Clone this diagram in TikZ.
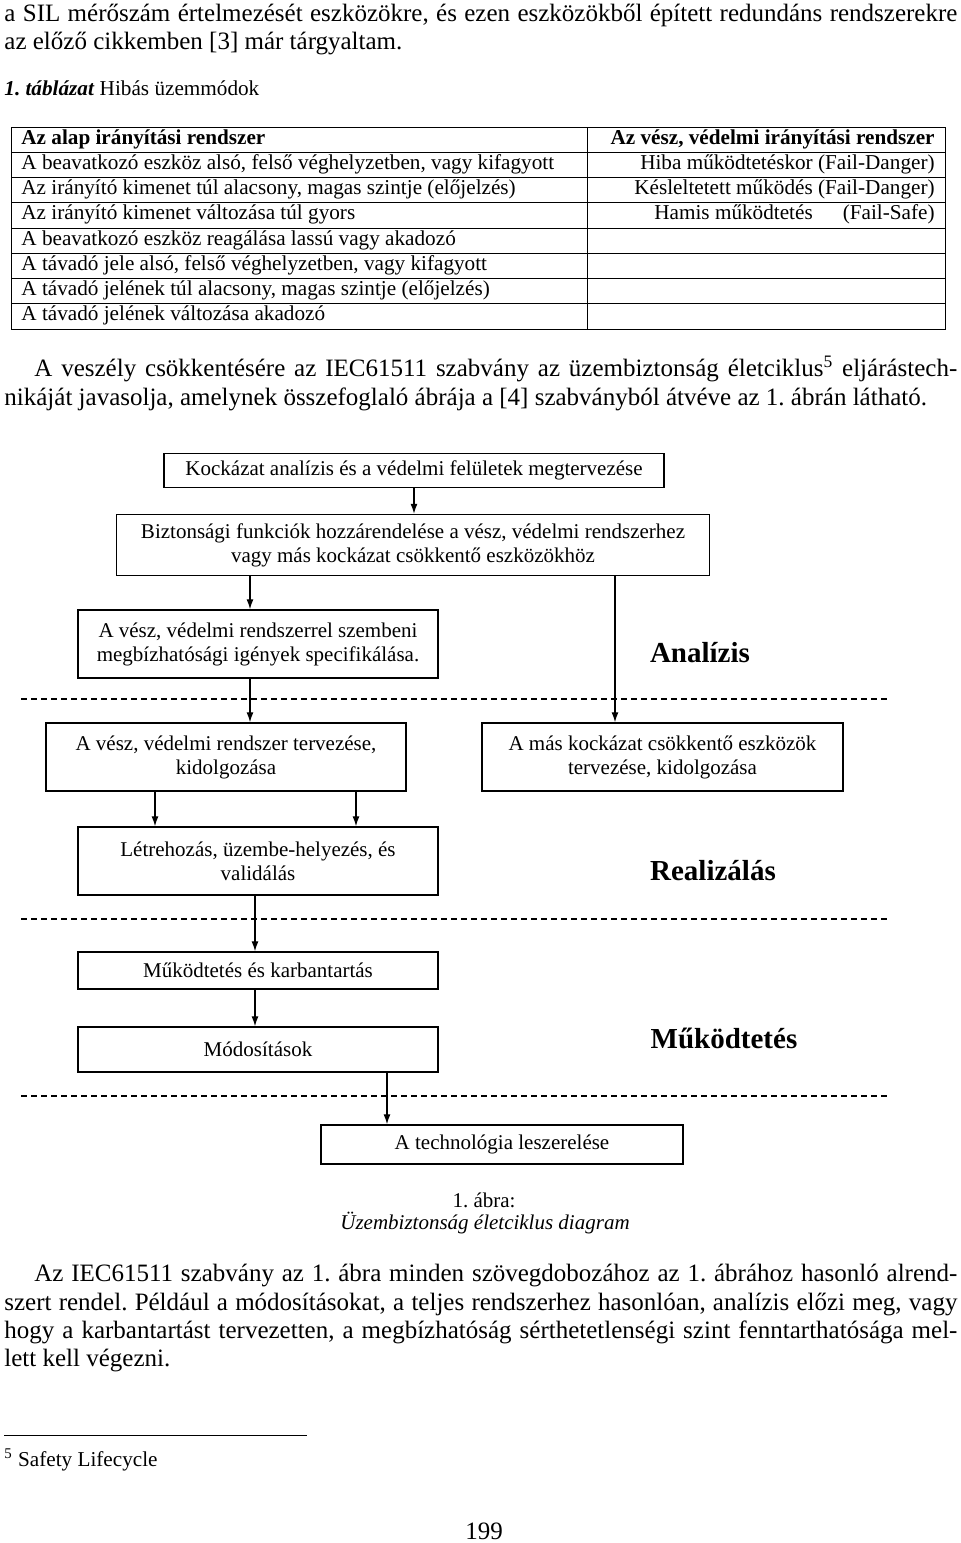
\documentclass[tikz,border=0pt]{standalone}
\usepackage{fontspec}
\setmainfont{Liberation Serif}
\usetikzlibrary{arrows.meta}
\frenchspacing

\newcommand{\bodyfont}{\fontsize{12.5}{14}\selectfont}
\newcommand{\tabfont}{\fontsize{10.6}{12}\selectfont}
\newcommand{\boxfont}{\fontsize{10.5}{12}\selectfont}

\begin{document}
\begin{tikzpicture}[x=0.5pt,y=-0.5pt,
	txt/.style={anchor=base west, inner sep=0pt, font=\bodyfont},
	cell/.style={anchor=base west, inner sep=0pt, font=\tabfont},
	stage/.style={draw, line width=0.75pt, align=center, inner sep=0pt, font=\boxfont},
	phase/.style={inner sep=0pt, font=\fontsize{14.5}{16}\selectfont\bfseries},
	arr/.style={-{Latex[length=5pt,width=3.5pt]}, line width=0.6pt},
	sepline/.style={line width=0.7pt, dash pattern=on 3pt off 2pt}]

	% Fix the page size
	\useasboundingbox (0,0) rectangle (960,1543);

	% Draw the text above the table
	\node[txt] (top1) at (4,21) {\makebox[476.5pt][s]{a SIL mérőszám értelmezését eszközökre, és ezen eszközökből épített redundáns rendszerekre}};
	\node[txt] (top2) at (4,49) {az előző cikkemben [3] már tárgyaltam.};
	\node[txt, font=\tabfont] (tcap) at (4,95) {\textbf{\textit{1. táblázat}} Hibás üzemmódok};

	% Draw the table grid
	\draw[line width=0.5pt] (11,127) rectangle (945,329);
	\draw[line width=0.5pt] (587,127) -- (587,329);
	\foreach \k in {1,...,7}
		\draw[line width=0.5pt] (11,{127+25.25*\k}) -- (945,{127+25.25*\k});

	% Draw the table texts
	\node[cell] (head1) at (21,144) {\textbf{Az alap irányítási rendszer}};
	\node[cell, anchor=base east] (head2) at (935,144) {\textbf{Az vész, védelmi irányítási rendszer}};
	\foreach \t [count=\k] in {{A beavatkozó eszköz alsó, felső véghelyzetben, vagy kifagyott},
		{Az irányító kimenet túl alacsony, magas szintje (előjelzés)},
		{Az irányító kimenet változása túl gyors},
		{A beavatkozó eszköz reagálása lassú vagy akadozó},
		{A távadó jele alsó, felső véghelyzetben, vagy kifagyott},
		{A távadó jelének túl alacsony, magas szintje (előjelzés)},
		{A távadó jelének változása akadozó}}
		\node[cell] (row\k) at (21,{144+25.25*\k}) {\t};
	\node[cell, anchor=base east] (fail1) at (935,169.25) {Hiba működtetéskor (Fail-Danger)};
	\node[cell, anchor=base east] (fail2) at (935,194.5) {Késleltetett működés (Fail-Danger)};
	\node[cell, anchor=base east] (fail3) at (935,219.75) {Hamis működtetés\hspace{15pt}(Fail-Safe)};

	% Draw the paragraph before the figure
	\node[txt] (par1) at (34,376) {\makebox[461.5pt][s]{A veszély csökkentésére az IEC61511 szabvány az üzembiztonság életciklus\textsuperscript{5} eljárástech-}};
	\node[txt] (par2) at (4,405) {nikáját javasolja, amelynek összefoglaló ábrája a [4] szabványból átvéve az 1. ábrán látható.};

	% Draw the lifecycle boxes
	\node[stage, minimum width=250pt, minimum height=17pt] (kock) at (414,470.5) {Kockázat analízis és a védelmi felületek megtervezése};
	\node[stage, minimum width=296.5pt, minimum height=30.5pt] (bizt) at (413,545) {Biztonsági funkciók hozzárendelése a vész, védelmi rendszerhez\\vagy más kockázat csökkentő eszközökhöz};
	\node[stage, minimum width=180pt, minimum height=34pt] (spec) at (258,644) {A vész, védelmi rendszerrel szembeni\\megbízhatósági igények specifikálása.};
	\node[stage, minimum width=180pt, minimum height=34pt] (tervez) at (226,757) {A vész, védelmi rendszer tervezése,\\kidolgozása};
	\node[stage, minimum width=180.5pt, minimum height=34pt] (mas) at (662.5,757) {A más kockázat csökkentő eszközök\\tervezése, kidolgozása};
	\node[stage, minimum width=180pt, minimum height=34pt] (letre) at (258,861) {Létrehozás, üzembe-helyezés, és\\validálás};
	\node[stage, minimum width=180pt, minimum height=18.5pt] (mukod) at (258,970.5) {Működtetés és karbantartás};
	\node[stage, minimum width=180pt, minimum height=22.5pt] (modos) at (258,1049.5) {Módosítások};
	\node[stage, minimum width=181pt, minimum height=19.5pt] (lesz) at (502,1144.5) {A technológia leszerelése};

	% Draw the phase names
	\node[phase] (anal) at (700,653) {Analízis};
	\node[phase] (real) at (713,871) {Realizálás};
	\node[phase] (uzem) at (724,1038) {Működtetés};

	% Draw the phase borders
	\draw[sepline] (21,699) -- (888,699);
	\draw[sepline] (21,919) -- (888,919);
	\draw[sepline] (21,1096) -- (888,1096);

	% Draw the arrows
	\coordinate (a1) at ([xshift=-4pt]spec.north);
	\coordinate (a2) at ([xshift=-23.75pt]mas.north);
	\coordinate (a3) at ([xshift=12pt]tervez.north);
	\coordinate (a4) at ([xshift=-51.5pt]letre.north);
	\coordinate (a5) at ([xshift=49pt]letre.north);
	\coordinate (a6) at ([xshift=-57.5pt]lesz.north);
	\draw[arr] (kock.south) -- (kock.south |- bizt.north);
	\draw[arr] (bizt.south -| a1) -- (a1);
	\draw[arr] (bizt.south -| a2) -- (a2);
	\draw[arr] (spec.south -| a3) -- (a3);
	\draw[arr] (tervez.south -| a4) -- (a4);
	\draw[arr] (tervez.south -| a5) -- (a5);
	\draw[arr] ([xshift=-1.5pt]letre.south) -- ([xshift=-1.5pt]mukod.north);
	\draw[arr] ([xshift=-1.5pt]mukod.south) -- ([xshift=-1.5pt]modos.north);
	\draw[arr] (modos.south -| a6) -- (a6);

	% Draw the figure caption
	\node[inner sep=0pt, font=\boxfont] (fcap1) at (484,1200) {1. ábra:};
	\node[inner sep=0pt, font=\boxfont\itshape] (fcap2) at (485,1223) {Üzembiztonság életciklus diagram};

	% Draw the paragraph after the figure
	\node[txt] (par3) at (34,1281) {\makebox[461.5pt][s]{Az IEC61511 szabvány az 1. ábra minden szövegdobozához az 1. ábrához hasonló alrend-}};
	\node[txt] (par4) at (4,1310) {\makebox[476.5pt][s]{szert rendel. Például a módosításokat, a teljes rendszerhez hasonlóan, analízis előzi meg, vagy}};
	\node[txt] (par5) at (4,1338) {\makebox[476.5pt][s]{hogy a karbantartást tervezetten, a megbízhatóság sérthetetlenségi szint fenntarthatósága mel-}};
	\node[txt] (par6) at (4,1366) {lett kell végezni.};

	% Draw the footnote and the page number
	\draw[line width=0.5pt] (4,1435) -- (307,1435);
	\node[txt, font=\tabfont] (fnote) at (4,1466) {\textsuperscript{5} Safety Lifecycle};
	\node[inner sep=0pt, anchor=base, font=\bodyfont] (page) at (484,1539) {199};

\end{tikzpicture}
\end{document}
